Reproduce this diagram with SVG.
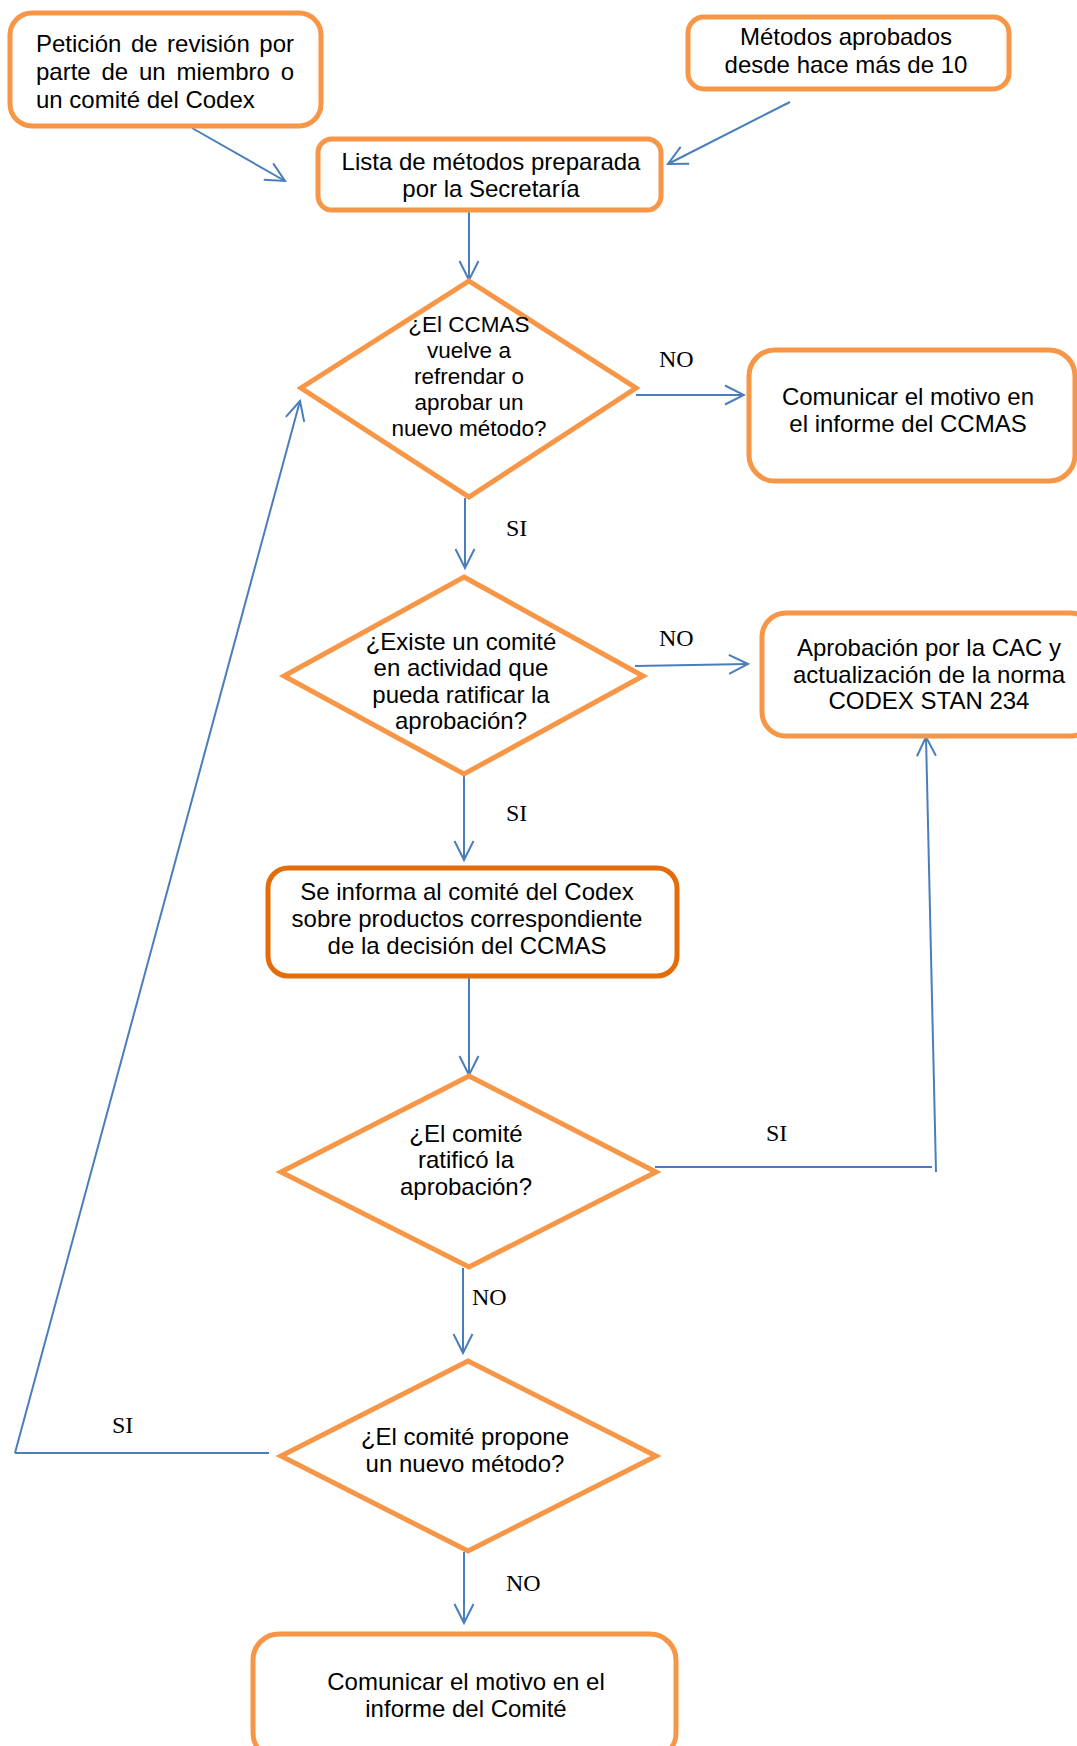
<svg xmlns="http://www.w3.org/2000/svg" width="1077" height="1746" viewBox="0 0 1077 1746">
<defs>
<style>
.box{fill:#fff;stroke:#F79646;stroke-width:5}
.box2{fill:#fff;stroke:#E46C0A;stroke-width:5}
.dia{fill:#fff;stroke:#F79646;stroke-width:5;stroke-linejoin:miter}
.t{font-family:"Liberation Sans",Arial,sans-serif;font-size:24px;fill:#000}
.td{font-family:"Liberation Sans",Arial,sans-serif;font-size:24px;fill:#000;text-anchor:middle}
.td1{font-size:22.5px}
.tc{text-anchor:middle}
.lb{font-family:"Liberation Serif","Times New Roman",serif;font-size:24px;fill:#000}
.ln{fill:none;stroke:#4A7EBB;stroke-width:2}
.ar{marker-end:url(#ah)}
</style>
<marker id="ah" viewBox="-21 -11 23 22" refX="0" refY="0" markerWidth="23" markerHeight="22" markerUnits="userSpaceOnUse" orient="auto">
<path d="M-19,-9.5 L0,0 L-19,9.5" fill="none" stroke="#4A7EBB" stroke-width="2"/>
</marker>
</defs>
<rect width="1077" height="1746" fill="#fff"/>

<g id="connectors">
<line class="ln ar" x1="192" y1="128" x2="285" y2="181"/>
<line class="ln ar" x1="790" y1="102" x2="668" y2="164"/>
<line class="ln ar" x1="469" y1="212" x2="469" y2="280"/>
<line class="ln ar" x1="636" y1="395" x2="744" y2="395"/>
<line class="ln ar" x1="465" y1="498" x2="465" y2="568"/>
<line class="ln ar" x1="635" y1="666" x2="748" y2="664"/>
<line class="ln ar" x1="464" y1="775" x2="464" y2="860"/>
<line class="ln ar" x1="469" y1="978" x2="469" y2="1075"/>
<line class="ln" x1="655" y1="1167" x2="932" y2="1167"/>
<line class="ln ar" x1="936" y1="1172" x2="926" y2="737"/>
<line class="ln ar" x1="463" y1="1268" x2="463" y2="1353"/>
<line class="ln" x1="269" y1="1453" x2="15" y2="1453"/>
<line class="ln ar" x1="15" y1="1453" x2="300" y2="401"/>
<line class="ln ar" x1="464" y1="1552" x2="464" y2="1623"/>
<text class="lb" x="659" y="367">NO</text>
<text class="lb" x="506" y="536">SI</text>
<text class="lb" x="659" y="646">NO</text>
<text class="lb" x="506" y="821">SI</text>
<text class="lb" x="766" y="1141">SI</text>
<text class="lb" x="472" y="1305">NO</text>
<text class="lb" x="112" y="1433">SI</text>
<text class="lb" x="506" y="1591">NO</text>
</g>

<g id="n1">
<rect class="box" x="10" y="13" width="311" height="113" rx="22"/>
<text class="t" y="52"><tspan x="36">Petición</tspan><tspan x="130.9">de</tspan><tspan x="167.1">revisión</tspan><tspan x="259.3">por</tspan></text>
<text class="t" y="80"><tspan x="36">parte</tspan><tspan x="101.5">de</tspan><tspan x="139">un</tspan><tspan x="176.5">miembro</tspan><tspan x="280.7">o</tspan></text>
<text class="t" x="36" y="108">un comité del Codex</text>
</g>

<g id="n2">
<rect class="box" x="688" y="17" width="321" height="72" rx="16"/>
<text class="t tc" x="846" y="45">Métodos aprobados</text>
<text class="t tc" x="846" y="73">desde hace más de 10</text>
</g>

<g id="n3">
<rect class="box" x="318" y="139" width="343" height="71" rx="14"/>
<text class="t tc" x="491" y="170">Lista de métodos preparada</text>
<text class="t tc" x="491" y="197">por la Secretaría</text>
</g>

<g id="n4">
<polygon class="dia" points="469,281 636,388 469,497 301,388"/>
<text class="td td1" x="469" y="332">¿El CCMAS</text>
<text class="td td1" x="469" y="358">vuelve a</text>
<text class="td td1" x="469" y="384">refrendar o</text>
<text class="td td1" x="469" y="410">aprobar un</text>
<text class="td td1" x="469" y="436">nuevo método?</text>
</g>

<g id="n5">
<rect class="box" x="749" y="350" width="326" height="131" rx="26"/>
<text class="t tc" x="908" y="405">Comunicar el motivo en</text>
<text class="t tc" x="908" y="432">el informe del CCMAS</text>
</g>

<g id="n6">
<polygon class="dia" points="464,577 643,676 464,774 284,676"/>
<text class="td" x="461" y="650">¿Existe un comité</text>
<text class="td" x="461" y="676">en actividad que</text>
<text class="td" x="461" y="703">pueda ratificar la</text>
<text class="td" x="461" y="729">aprobación?</text>
</g>

<g id="n7">
<rect class="box" x="762" y="613" width="332" height="123" rx="24"/>
<text class="t tc" x="929" y="656">Aprobación por la CAC y</text>
<text class="t tc" x="929" y="683">actualización de la norma</text>
<text class="t tc" x="929" y="709">CODEX STAN 234</text>
</g>

<g id="n8">
<rect class="box2" x="268" y="868" width="409" height="108" rx="20"/>
<text class="t tc" x="467" y="900">Se informa al comité del Codex</text>
<text class="t tc" x="467" y="927">sobre productos correspondiente</text>
<text class="t tc" x="467" y="954">de la decisión del CCMAS</text>
</g>

<g id="n9">
<polygon class="dia" points="469,1076 656,1172 469,1267 281,1172"/>
<text class="td" x="466" y="1142">¿El comité</text>
<text class="td" x="466" y="1168">ratificó la</text>
<text class="td" x="466" y="1195">aprobación?</text>
</g>

<g id="n10">
<polygon class="dia" points="468,1361 656,1456 468,1551 281,1456"/>
<text class="td" x="465" y="1445">¿El comité propone</text>
<text class="td" x="465" y="1472">un nuevo método?</text>
</g>

<g id="n11">
<rect class="box" x="253" y="1634" width="423" height="125" rx="26"/>
<text class="t tc" x="466" y="1690">Comunicar el motivo en el</text>
<text class="t tc" x="466" y="1717">informe del Comité</text>
</g>
</svg>
